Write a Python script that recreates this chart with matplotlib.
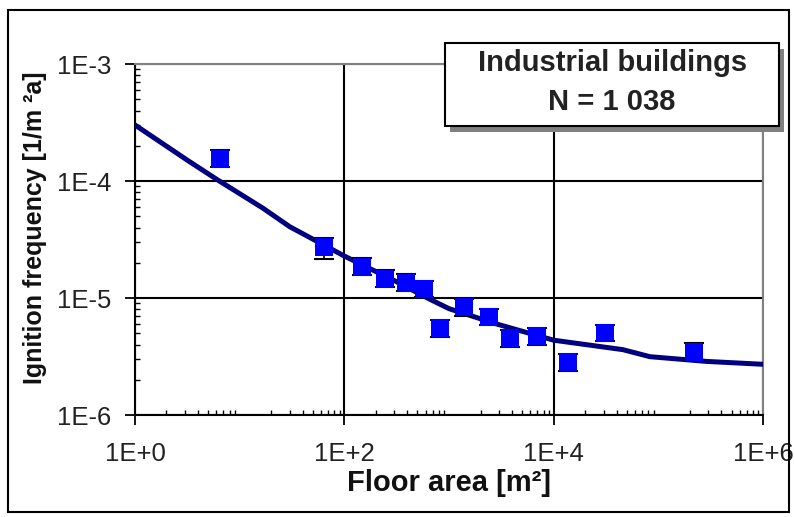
import matplotlib
matplotlib.use("Agg")
import matplotlib.pyplot as plt
from matplotlib.patches import Rectangle
from matplotlib.ticker import LogLocator, NullFormatter, FixedLocator

plt.rcParams['font.family'] = ['Liberation Sans', 'DejaVu Sans']

# observed ignition frequencies
area = [6.5, 64.5, 147, 243, 387, 576, 819, 1397, 2432, 3857, 6868, 13760, 31040, 217300]
freq = [1.56e-4, 2.75e-5, 1.86e-5, 1.47e-5, 1.36e-5, 1.20e-5, 5.55e-6, 8.37e-6,
        6.89e-6, 4.53e-6, 4.73e-6, 2.83e-6, 5.04e-6, 3.48e-6]
freq_low = [1.32e-4, 2.18e-5, 1.58e-5, 1.25e-5, 1.15e-5, 1.02e-5, 4.70e-6, 7.10e-6,
            5.85e-6, 3.85e-6, 4.00e-6, 2.40e-6, 4.30e-6, 2.95e-6]
freq_high = [1.84e-4, 3.26e-5, 2.19e-5, 1.73e-5, 1.60e-5, 1.41e-5, 6.55e-6, 9.90e-6,
             8.10e-6, 5.35e-6, 5.55e-6, 3.35e-6, 5.90e-6, 4.15e-6]

# fitted curve
curve_area = [1, 3.16, 6.2, 16.6, 30.2, 100, 316, 658, 1000, 2820, 1e4, 4.57e4, 8.3e4, 2.88e5, 1e6]
curve_freq = [3.02e-4, 1.51e-4, 1.02e-4, 5.89e-5, 4.07e-5, 2.29e-5, 1.38e-5, 9.77e-6,
              8.13e-6, 6.03e-6, 4.37e-6, 3.63e-6, 3.16e-6, 2.88e-6, 2.72e-6]

xticks = [1, 1e2, 1e4, 1e6]
xticklabels = ['1E+0', '1E+2', '1E+4', '1E+6']
yticks = [1e-6, 1e-5, 1e-4, 1e-3]
yticklabels = ['1E-6', '1E-5', '1E-4', '1E-3']

fig = plt.figure(figsize=(7.94, 5.17), dpi=100)
ax = fig.add_axes([0.170, 0.197, 0.791, 0.679])

ax.set_xscale('log')
ax.set_yscale('log')
ax.set_xlim(1, 1e6)
ax.set_ylim(1e-6, 1e-3)

ax.plot(curve_area, curve_freq, color='#000080', lw=3.6, zorder=3)

yerr = [[f - lo for f, lo in zip(freq, freq_low)],
        [hi - f for f, hi in zip(freq, freq_high)]]
ax.errorbar(area, freq, yerr=yerr, fmt='none', ecolor='black', elinewidth=1.2,
            capsize=7.2, capthick=1.5, zorder=4)
ax.plot(area, freq, 's', color='#0000FF', markersize=12.5, markeredgewidth=0, zorder=5)

ax.xaxis.set_major_locator(FixedLocator(xticks))
ax.set_xticklabels(xticklabels)
ax.yaxis.set_major_locator(FixedLocator(yticks))
ax.set_yticklabels(yticklabels)
ax.xaxis.set_minor_locator(LogLocator(base=10, subs=range(2, 10), numticks=20))
ax.yaxis.set_minor_locator(LogLocator(base=10, subs=range(2, 10), numticks=20))
ax.xaxis.set_minor_formatter(NullFormatter())
ax.yaxis.set_minor_formatter(NullFormatter())

ax.tick_params(which='major', direction='out', length=7, width=1.3, labelcolor='#222222',
               labelsize=18.5)
ax.tick_params(axis='x', which='major', pad=12)
ax.tick_params(axis='y', which='major', pad=10)
ax.tick_params(which='minor', direction='in', length=3.5, width=1.0)

ax.grid(True, which='major', color='black', lw=1.5)
for s in ['left', 'bottom']:
    ax.spines[s].set_color('black')
    ax.spines[s].set_linewidth(1.5)
for s in ['top', 'right']:
    ax.spines[s].set_color('#808080')
    ax.spines[s].set_linewidth(1.5)

fig.text(0.5655, 0.0658, 'Floor area [m²]', ha='center', va='center',
         fontsize=21, fontweight='bold', color='#111111')
fig.text(0.044, 0.560, 'Ignition frequency [1/m ²a]', ha='center', va='center',
         rotation=90, fontsize=18, fontweight='bold', color='#111111')

# title box with shadow
fig.patches.append(Rectangle((0.5668, 0.744), 0.4207, 0.161, transform=fig.transFigure,
                             facecolor='#808080', edgecolor='none', zorder=5))
fig.patches.append(Rectangle((0.5605, 0.756), 0.4207, 0.161, transform=fig.transFigure,
                             facecolor='white', edgecolor='black', lw=1.5, zorder=6))
fig.text(0.771, 0.878, 'Industrial buildings', ha='center', va='center',
         fontsize=21, fontweight='bold', color='#222222', zorder=7)
fig.text(0.771, 0.803, 'N = 1 038', ha='center', va='center',
         fontsize=21, fontweight='bold', color='#222222', zorder=7)

# outer border
fig.patches.append(Rectangle((0.010, 0.0097), 0.984, 0.971, transform=fig.transFigure,
                             facecolor='none', edgecolor='black', lw=1.5))

fig.savefig('out.png', dpi=100)
